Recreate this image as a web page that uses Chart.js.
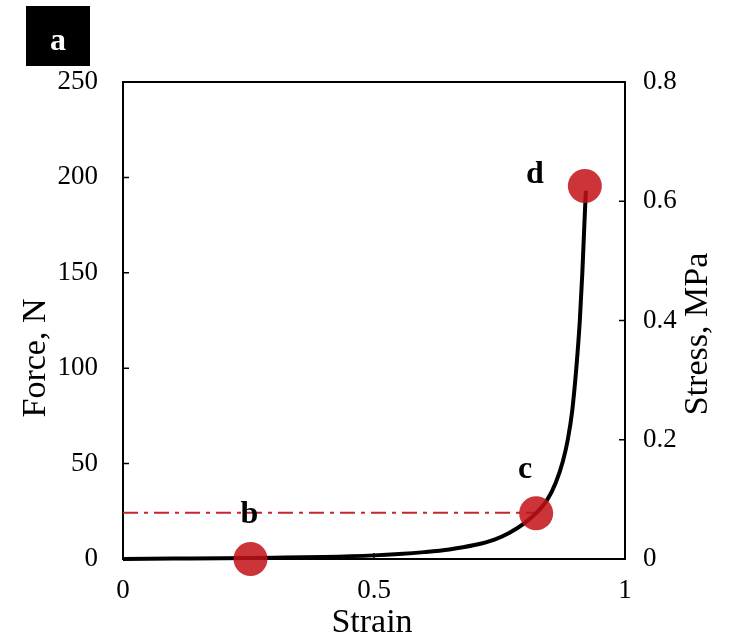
<!DOCTYPE html>
<html>
<head>
<meta charset="utf-8">
<script src="https://cdn.jsdelivr.net/npm/chart.js@4.4.0/dist/chart.umd.min.js"></script>
<style>
  html, body { margin: 0; padding: 0; background: #fff; }
  #wrap { width: 730px; height: 642px; }
</style>
</head>
<body>
<div id="wrap"><canvas id="forceChart"></canvas></div>
<script>
// Force-strain curve, values
const strain = [0, 0.1, 0.2, 0.3, 0.4, 0.5, 0.55, 0.6, 0.65, 0.7, 0.74, 0.77, 0.8, 0.823, 0.845, 0.862, 0.876, 0.886, 0.895, 0.903, 0.91, 0.915, 0.919, 0.922];
const force = [0, 0.2, 0.4, 0.7, 1.1, 1.9, 2.6, 3.6, 5.0, 7.3, 10.2, 13.8, 18.8, 24, 31, 40, 51, 62.5, 78, 100, 125, 150, 175, 193];

// marked points b, c, d
const markNames = ['b', 'c', 'd'];
const markStrain = [0.254, 0.823, 0.92];
const markForce = [0, 24, 195.5];

// dash-dot level through c
const levelStrain = [0, 0.823];
const levelForce = [24.3, 24.3];

// axes
const strainTicks = [0, 0.5, 1];
const forceTicks = [0, 50, 100, 150, 200, 250];
const stressTicks = [0, 0.2, 0.4, 0.6, 0.8];
const forceMax = 250;
const stressMax = 0.8;
const panelLabel = 'a';

const serif = "'Liberation Serif', 'Times New Roman', serif";
const tickFont = { family: serif, size: 27 };

const curvePoints = strain.map((s, i) => ({ x: s, y: force[i] }));
const markPoints = markStrain.map((s, i) => ({ x: s, y: markForce[i] }));
const levelPoints = levelStrain.map((s, i) => ({ x: s, y: levelForce[i] }));

// frame, inward ticks, point letters, axis titles, panel tag
const extras = {
  id: 'extras',
  beforeDatasetsDraw(chart) {
    const { ctx, chartArea: a } = chart;
    ctx.save();
    ctx.strokeStyle = '#000';
    ctx.lineWidth = 2;
    ctx.strokeRect(a.left, a.top, a.right - a.left, a.bottom - a.top);
    ctx.restore();
  },
  afterDraw(chart) {
    const { ctx, chartArea: a, scales } = chart;
    ctx.save();
    ctx.strokeStyle = '#000';
    ctx.lineWidth = 1.5;
    ctx.beginPath();
    forceTicks.forEach(v => {
      const y = scales.y.getPixelForValue(v);
      ctx.moveTo(a.left, y); ctx.lineTo(a.left + 6, y);
    });
    stressTicks.forEach(v => {
      const y = scales.y2.getPixelForValue(v);
      ctx.moveTo(a.right, y); ctx.lineTo(a.right - 6, y);
    });
    strainTicks.forEach(v => {
      const x = scales.x.getPixelForValue(v);
      ctx.moveTo(x, a.bottom); ctx.lineTo(x, a.bottom - 6);
    });
    ctx.stroke();

    // letters next to the marked points
    const offsets = [[-1, -36], [-11, -35], [-50, -3]];
    ctx.fillStyle = '#000';
    ctx.font = 'bold 32px ' + serif;
    ctx.textAlign = 'center';
    ctx.textBaseline = 'alphabetic';
    markNames.forEach((name, i) => {
      const px = scales.x.getPixelForValue(markStrain[i]);
      const py = scales.y.getPixelForValue(markForce[i]);
      ctx.fillText(name, px + offsets[i][0], py + offsets[i][1]);
    });

    // axis titles
    ctx.font = '34px ' + serif;
    ctx.fillText('Strain', 372, 632);
    ctx.save();
    ctx.translate(45, 358);
    ctx.rotate(-Math.PI / 2);
    ctx.fillText('Force, N', 0, 0);
    ctx.restore();
    ctx.save();
    ctx.translate(707, 334);
    ctx.rotate(-Math.PI / 2);
    ctx.fillText('Stress, MPa', 0, 0);
    ctx.restore();

    // panel tag
    ctx.fillStyle = '#000';
    ctx.fillRect(26, 6, 64, 60);
    ctx.fillStyle = '#fff';
    ctx.font = 'bold 32px ' + serif;
    ctx.fillText(panelLabel, 58, 50);
    ctx.restore();
  }
};

const chart = new Chart(document.getElementById('forceChart'), {
  type: 'scatter',
  data: {
    datasets: [
      {
        label: 'points',
        data: markPoints,
        yAxisID: 'y',
        clip: false,
        pointRadius: 17,
        pointHoverRadius: 17,
        pointBackgroundColor: 'rgba(194, 16, 22, 0.85)',
        pointBorderWidth: 0,
        showLine: false
      },
      {
        label: 'Force',
        data: curvePoints,
        yAxisID: 'y',
        clip: false,
        showLine: true,
        borderColor: '#000',
        borderWidth: 4,
        pointRadius: 0,
        cubicInterpolationMode: 'monotone'
      },
      {
        label: 'level',
        data: levelPoints,
        yAxisID: 'y',
        showLine: true,
        borderColor: '#C0282D',
        borderWidth: 2,
        borderDash: [15, 6, 4, 6],
        pointRadius: 0
      }
    ]
  },
  options: {
    responsive: true,
    maintainAspectRatio: false,
    animation: false,
    layout: { padding: { top: 82, left: 0, right: 0, bottom: 0 } },
    plugins: { legend: { display: false }, tooltip: { enabled: false } },
    scales: {
      x: {
        type: 'linear', min: 0, max: 1,
        grid: { display: false, drawTicks: false },
        border: { display: false },
        afterBuildTicks: s => { s.ticks = strainTicks.map(v => ({ value: v })); },
        ticks: { font: tickFont, color: '#000', padding: 16, maxRotation: 0, autoSkip: false, callback: v => String(v) },
        afterFit: s => { s.height = 83; }
      },
      y: {
        type: 'linear', position: 'left', min: 0, max: forceMax,
        grid: { display: false, drawTicks: false },
        border: { display: false },
        afterBuildTicks: s => { s.ticks = forceTicks.map(v => ({ value: v })); },
        ticks: { font: tickFont, color: '#000', padding: 25, autoSkip: false, callback: v => String(v) },
        afterFit: s => { s.width = 123; }
      },
      y2: {
        type: 'linear', position: 'right', min: 0, max: stressMax,
        grid: { display: false, drawTicks: false },
        border: { display: false },
        afterBuildTicks: s => { s.ticks = stressTicks.map(v => ({ value: v })); },
        ticks: { font: tickFont, color: '#000', padding: 18, autoSkip: false, callback: v => String(v) },
        afterFit: s => { s.width = 105; }
      }
    }
  },
  plugins: [extras]
});
</script>
</body>
</html>
